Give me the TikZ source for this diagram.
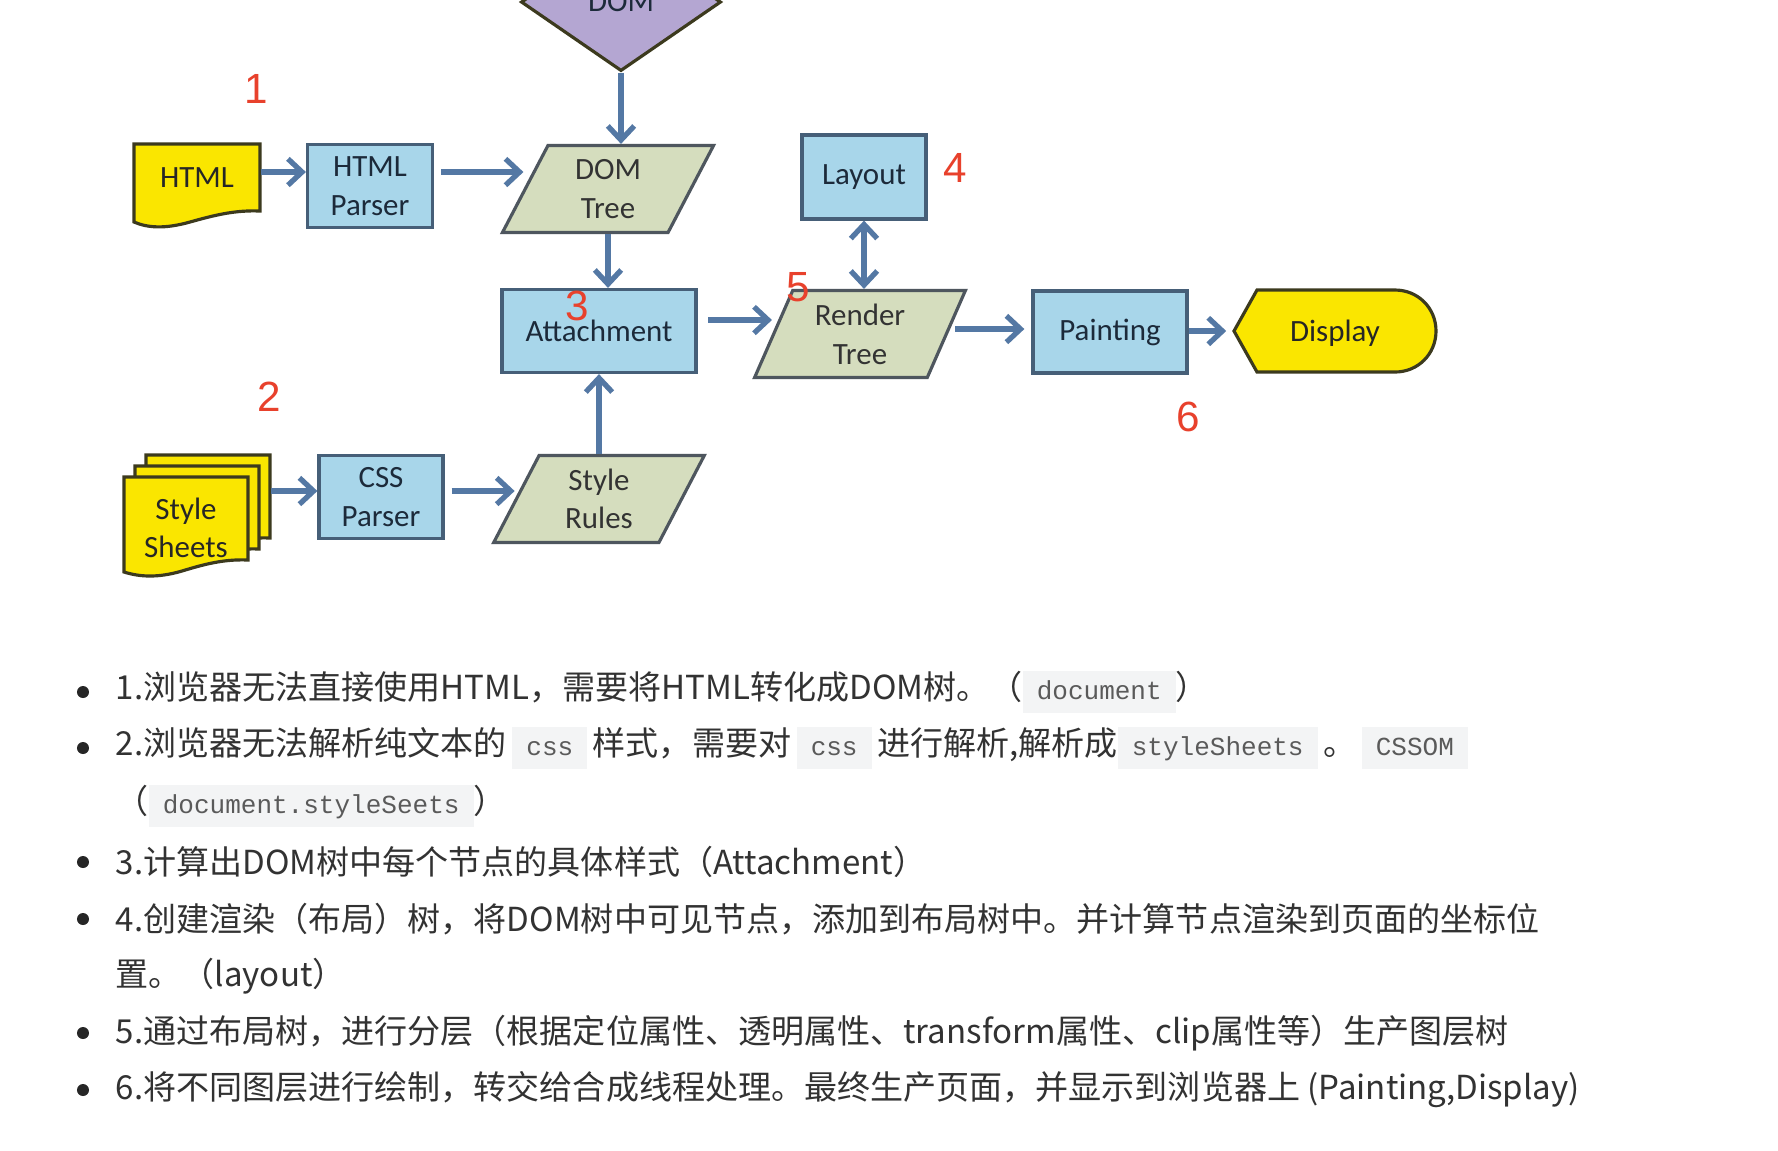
\documentclass[tikz,border=0pt]{standalone}
\usepackage{fontspec}
\usetikzlibrary{shapes.geometric,arrows.meta}
\newfontfamily\diagfont{Carlito}
\newfontfamily\zhfont{Noto Sans CJK SC}
\newfontfamily\codefont{Liberation Mono}
\newfontfamily\numfont{Liberation Sans}

\definecolor{boxblue}{RGB}{168,214,234}
\definecolor{boxedge}{RGB}{70,95,120}
\definecolor{boxtext}{RGB}{28,42,58}
\definecolor{datagreen}{RGB}{213,221,190}
\definecolor{dataedge}{RGB}{78,86,94}
\definecolor{docyellow}{RGB}{250,230,0}
\definecolor{docedge}{RGB}{60,58,30}
\definecolor{dompurple}{RGB}{180,166,210}
\definecolor{flowblue}{RGB}{84,120,164}
\definecolor{numred}{RGB}{232,65,44}
\definecolor{bodytext}{RGB}{50,50,50}
\definecolor{codetext}{RGB}{90,90,90}
\definecolor{codebg}{RGB}{243,244,245}

\newcommand{\inlinecode}[1]{{\setlength{\fboxsep}{1pt}\colorbox{codebg}{\hspace{3pt}\color{codetext}\codefont\fontsize{7.4}{10}\selectfont\strut#1\hspace{3pt}}}}

\tikzset{
  procbox/.style={draw=boxedge,fill=boxblue,line width=0.9pt,minimum height=0.83cm,
    align=center,text=boxtext,font=\diagfont\fontsize{8.8}{11}\selectfont},
  databox/.style={trapezium,trapezium left angle=67,trapezium right angle=113,
    trapezium stretches=true,draw=dataedge,fill=datagreen,line width=0.9pt,
    minimum height=0.87cm,minimum width=2.11cm,inner sep=0pt,
    align=center,text=black!80,font=\diagfont\fontsize{8.8}{11}\selectfont},
  docshape/.style={draw=docedge,fill=docyellow,line width=0.9pt},
  doctext/.style={rectangle,inner sep=0pt,align=center,text=black!85,
    font=\diagfont\fontsize{8.8}{11}\selectfont},
  flow/.style={draw=flowblue,line width=1.5pt,-{Straight Barb[length=4pt,width=7.5pt]}},
  stepnum/.style={text=numred,font=\numfont\fontsize{12}{14}\selectfont},
  listline/.style={anchor=west,inner sep=0pt,text=bodytext,
    font=\zhfont\fontsize{9.4}{11}\selectfont},
  bullet/.style={circle,fill=black!85,inner sep=0pt,minimum size=0.12cm}
}

\begin{document}
\begin{tikzpicture}[x=0.01cm,y=-0.01cm]
\useasboundingbox (0,0) rectangle (1778,1150);
\fill[white] (0,0) rectangle (1778,1150);

% DOM, cut by the top edge
\node[diamond,draw=docedge,fill=dompurple,line width=0.9pt,minimum width=2cm,
  minimum height=1.38cm,inner sep=0pt,text=boxtext,
  font=\diagfont\fontsize{8.8}{11}\selectfont] (dom) at (621,2) {DOM};

% HTML document
\draw[docshape] (134,222) -- (134,144) -- (260,144) -- (260,211)
  .. controls (235,210) and (215,215) .. (190,222)
  .. controls (165,229) and (148,228) .. (134,222) -- cycle;
\node[doctext,minimum width=1.26cm,minimum height=0.56cm] (html) at (197,178) {HTML};

% style sheets, three pages
\draw[docshape] (146,550) -- (146,455) -- (270,455) -- (270,538)
  .. controls (246,537) and (227,542) .. (204,549)
  .. controls (180,556) and (162,555) .. (146,550) -- cycle;
\draw[docshape] (135,561) -- (135,466) -- (259,466) -- (259,549)
  .. controls (235,548) and (216,553) .. (193,560)
  .. controls (169,567) and (151,566) .. (135,561) -- cycle;
\draw[docshape] (124,572) -- (124,477) -- (248,477) -- (248,560)
  .. controls (224,559) and (205,564) .. (182,571)
  .. controls (158,578) and (140,577) .. (124,572) -- cycle;
\node[doctext,minimum width=1.24cm,minimum height=0.72cm] (sheetsback) at (208,491) {};
\node[doctext] (sheets) at (186,528) {Style\\Sheets};

% Display
\draw[docshape] (1234,331) -- (1257,290) -- (1395,290)
  .. controls (1418,290) and (1436,308) .. (1436,331)
  .. controls (1436,354) and (1418,372) .. (1395,372)
  -- (1257,372) -- cycle;
\node[doctext,minimum width=2.02cm,minimum height=0.82cm] (display) at (1335,333) {Display};

\node[procbox,minimum width=1.25cm] (htmlparser) at (370,186) {HTML\\Parser};
\node[databox] (domtree) at (608,189) {DOM\\Tree};
\node[procbox,minimum width=1.24cm,minimum height=0.84cm] (layout) at (864,177) {Layout};
\node[procbox,minimum width=1.94cm] (attach) at (599,331) {Attachment};
\node[databox] (render) at (860,334) {Render\\Tree};
\node[procbox,minimum width=1.54cm,minimum height=0.82cm] (paint) at (1110,332) {Painting};
\node[procbox,minimum width=1.24cm] (cssparser) at (381,497) {CSS\\Parser};
\node[databox] (rules) at (599,499) {Style\\Rules};

% connectors
\draw[flow] ([yshift=0.06cm]html.east) -- ([yshift=0.06cm]html.east -| htmlparser.west);
\draw[flow,shorten <=2pt] ([yshift=0.06cm]html.east -| htmlparser.east) -- ([yshift=0.06cm]html.east -| domtree.west);
\draw[flow] (dom.south) -- (dom.south |- domtree.north);
\draw[flow] (domtree.south) -- (domtree.south |- attach.north);
\draw[flow] (attach.south |- rules.north) -- (attach.south);
\draw[flow,shorten <=3pt] ([yshift=0.11cm]attach.east) -- ([yshift=0.11cm]attach.east -| render.west);
\draw[flow,{Straight Barb[length=4pt,width=7.5pt]}-{Straight Barb[length=4pt,width=7.5pt]}]
  (layout.south) -- (layout.south |- render.north);
\draw[flow,shorten <=2pt,shorten >=2pt] ([yshift=0.05cm]render.east) -- ([yshift=0.05cm]render.east -| paint.west);
\draw[flow,shorten >=2pt] ([yshift=0.01cm]paint.east) -- ([yshift=0.01cm]paint.east -| display.west);
\draw[flow] (sheetsback.east) -- (sheetsback.east -| cssparser.west);
\draw[flow,shorten <=2pt] (cssparser.east |- sheetsback.east) -- (rules.west |- sheetsback.east);

% step numbers
\node[stepnum] (n1) at (256,89) {1};
\node[stepnum] (n2) at (269,397) {2};
\node[stepnum] (n3) at (577,306) {3};
\node[stepnum] (n4) at (955,168) {4};
\node[stepnum] (n5) at (798,287) {5};
\node[stepnum] (n6) at (1188,417) {6};

% notes
\node[bullet] (b1) at (83,692) {};
\node[listline] (l1) at (115,692) {1.浏览器无法直接使用HTML，需要将HTML转化成DOM树。（\inlinecode{document}）};
\node[bullet] (b2) at (83,748) {};
\node[listline] (l2) at (115,748) {2.浏览器无法解析纯文本的\,\inlinecode{css}\,样式，需要对\,\inlinecode{css}\,进行解析,解析成\inlinecode{styleSheets}\,。\,\inlinecode{CSSOM}};
\node[listline] (l3) at (115,806) {（\inlinecode{document.styleSeets}）};
\node[bullet] (b4) at (83,862) {};
\node[listline] (l4) at (115,862) {3.计算出DOM树中每个节点的具体样式（Attachment）};
\node[bullet] (b5) at (83,919) {};
\node[listline] (l5) at (115,919) {4.创建渲染（布局）树，将DOM树中可见节点，添加到布局树中。并计算节点渲染到页面的坐标位};
\node[listline] (l6) at (115,976) {置。（layout）};
\node[bullet] (b7) at (83,1033) {};
\node[listline] (l7) at (115,1033) {5.通过布局树，进行分层（根据定位属性、透明属性、transform属性、clip属性等）生产图层树};
\node[bullet] (b8) at (83,1090) {};
\node[listline] (l8) at (115,1090) {6.将不同图层进行绘制，转交给合成线程处理。最终生产页面，并显示到浏览器上 (Painting,Display)};
\end{tikzpicture}
\end{document}
